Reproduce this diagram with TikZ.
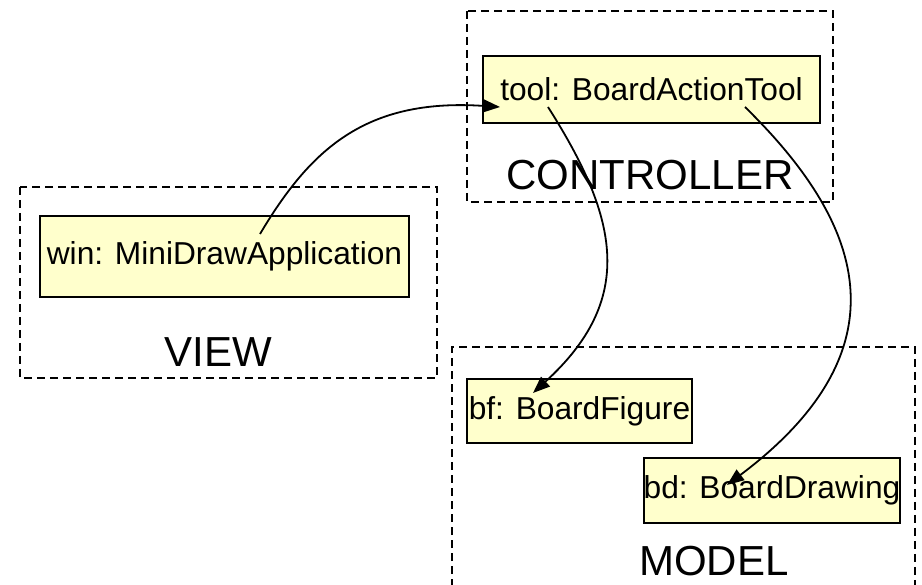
\documentclass[tikz,border=0pt]{standalone}
\usepackage{fontspec}
\setmainfont{Liberation Sans}
\usetikzlibrary{arrows.meta}
\definecolor{objfill}{HTML}{FFFFCC}
\tikzset{
  obj/.style={draw=black, line width=2.2pt, fill=objfill, inner sep=0pt, anchor=center,
    font=\fontsize{31.7}{38}\selectfont},
  layerbox/.style={draw=black, line width=2pt, dash pattern=on 8pt off 5pt},
  layerlabel/.style={inner sep=0pt, font=\fontsize{42}{50}\selectfont},
  conn/.style={draw=black, line width=1.8pt, -{Triangle[length=17pt,width=13pt]}}
}
\begin{document}
\begin{tikzpicture}[x=1pt,y=-1pt]
\useasboundingbox (0,0) rectangle (922,585);
% layer boxes
\draw[layerbox] (467,11) rectangle (833,202);
\draw[layerbox] (20,187) rectangle (437,378);
\draw[layerbox] (452,600) -- (452,347) -- (915,347) -- (915,600);
% layer labels
\node[layerlabel] (ctrl) at (650,175) {CONTROLLER};
\node[layerlabel] (view) at (218.5,352) {VIEW};
\node[layerlabel] (model) at (714,561) {MODEL};
% objects
\node[obj, minimum width=337pt, minimum height=67pt] (tool) at (651.5,89.5) {tool: BoardActionTool};
\node[obj, minimum width=369pt, minimum height=81pt] (win) at (224.5,256.5) {win: MiniDrawApplication};
\node[obj, minimum width=225pt, minimum height=64pt] (bf) at (579.5,411) {bf: BoardFigure};
\node[obj, minimum width=256pt, minimum height=65pt] (bd) at (772,490.5) {bd: BoardDrawing};
% connector end points
\coordinate (winp) at (260,234);
\coordinate (toolin) at (500,107);
\coordinate (toolp1) at (548,107);
\coordinate (toolp2) at (745,107);
\coordinate (bfp) at (533,393);
\coordinate (bdp) at (727,485);
% connectors
\draw[conn] (winp) .. controls (310,150) and (365,98) .. (toolin);
\draw[conn] (toolp1) .. controls (620,220) and (635,300) .. (bfp);
\draw[conn] (toolp2) .. controls (850,210) and (920,340) .. (bdp);
\end{tikzpicture}
\end{document}
